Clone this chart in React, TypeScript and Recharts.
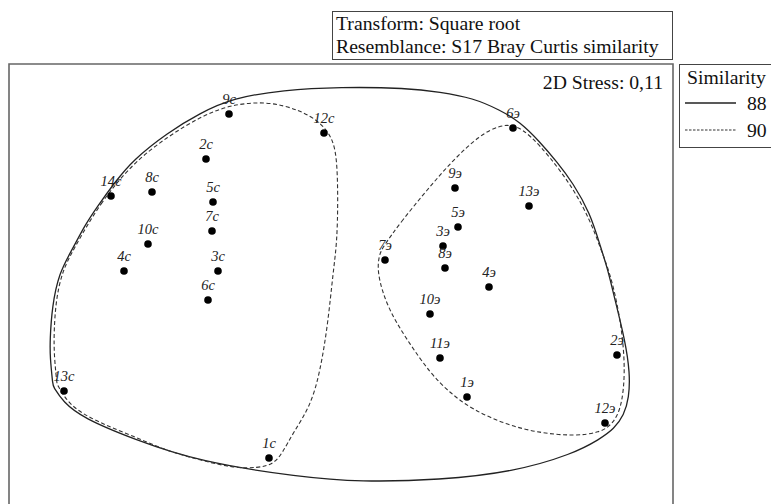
import { ScatterChart, Scatter, XAxis, YAxis, ReferenceArea } from "recharts";

// nMDS coordinates
const stationsC: [string, number, number][] = [
  ["1с", -0.36, -0.84],
  ["2с", -0.675, 0.655],
  ["3с", -0.615, 0.095],
  ["4с", -1.085, 0.095],
  ["5с", -0.64, 0.44],
  ["6с", -0.665, -0.05],
  ["7с", -0.645, 0.295],
  ["8с", -0.945, 0.49],
  ["9с", -0.56, 0.88],
  ["10с", -0.965, 0.23],
  ["12с", -0.085, 0.785],
  ["13с", -1.385, -0.505],
  ["14с", -1.15, 0.47],
];

const stationsE: [string, number, number][] = [
  ["1э", 0.63, -0.535],
  ["2э", 1.38, -0.325],
  ["3э", 0.51, 0.22],
  ["4э", 0.74, 0.015],
  ["5э", 0.585, 0.315],
  ["6э", 0.86, 0.81],
  ["7э", 0.22, 0.15],
  ["8э", 0.52, 0.11],
  ["9э", 0.57, 0.51],
  ["10э", 0.445, -0.12],
  ["11э", 0.495, -0.34],
  ["12э", 1.32, -0.665],
  ["13э", 0.94, 0.42],
];

// similarity contours (closed outlines)
const contour88: [number, number][] = [
  [-1.345, 0.2], [-1.28, 0.325], [-1.22, 0.415], [-1.13, 0.54], [-1.04, 0.65],
  [-0.87, 0.785], [-0.705, 0.885], [-0.54, 0.96], [-0.29, 1.0], [-0.005, 1.015],
  [0.33, 1.01], [0.495, 0.99], [0.66, 0.96], [0.795, 0.9], [0.895, 0.84],
  [0.995, 0.74], [1.08, 0.64], [1.16, 0.535], [1.245, 0.385], [1.295, 0.225],
  [1.335, 0.1], [1.37, -0.05], [1.42, -0.25], [1.445, -0.415], [1.44, -0.54],
  [1.415, -0.625], [1.365, -0.695], [1.295, -0.745], [1.16, -0.82], [0.86, -0.91],
  [0.495, -0.95], [0.095, -0.96], [-0.205, -0.935], [-0.705, -0.86], [-1.04, -0.745],
  [-1.29, -0.64], [-1.39, -0.56], [-1.44, -0.48], [-1.44, -0.48], [-1.455, -0.335],
  [-1.455, -0.25], [-1.445, -0.085], [-1.41, 0.085],
];

const contour90C: [number, number][] = [
  [-1.34, 0.2], [-1.205, 0.435], [-1.04, 0.635], [-0.87, 0.765], [-0.705, 0.865],
  [-0.56, 0.925], [-0.37, 0.945], [-0.205, 0.9], [-0.105, 0.84], [-0.045, 0.765],
  [-0.02, 0.665], [-0.015, 0.45], [-0.02, 0.235], [-0.04, 0.085], [-0.065, -0.165],
  [-0.105, -0.415], [-0.155, -0.585], [-0.24, -0.715], [-0.29, -0.81], [-0.335, -0.87],
  [-0.415, -0.89], [-0.54, -0.89], [-0.705, -0.85], [-0.87, -0.805], [-1.04, -0.73],
  [-1.205, -0.665], [-1.355, -0.585], [-1.42, -0.47], [-1.42, -0.47], [-1.435, -0.325],
  [-1.435, -0.2], [-1.425, -0.05], [-1.395, 0.09],
];

const contour90E: [number, number][] = [
  [0.21, 0.215], [0.295, 0.335], [0.43, 0.5], [0.56, 0.65], [0.695, 0.775],
  [0.795, 0.825], [0.87, 0.825], [0.945, 0.775], [1.045, 0.665], [1.16, 0.51],
  [1.245, 0.35], [1.295, 0.215], [1.345, 0.085], [1.385, -0.085], [1.41, -0.25],
  [1.42, -0.415], [1.405, -0.575], [1.365, -0.665], [1.295, -0.715], [1.16, -0.73],
  [0.995, -0.715], [0.83, -0.675], [0.66, -0.6], [0.545, -0.515], [0.445, -0.415],
  [0.33, -0.25], [0.23, -0.085], [0.18, 0.085], [0.19, 0.175],
];

const X_DOMAIN: [number, number] = [-1.66, 1.66];
const Y_DOMAIN: [number, number] = [-1.1, 1.13];

const SERIF = '"Liberation Serif", "Times New Roman", serif';
const BIG = 19.7;

const toPoints = (rows: [string, number, number][]) =>
  rows.map(([name, x, y]) => ({ name, x, y }));
const toPath = (rows: [number, number][]) => rows.map(([x, y]) => ({ x, y }));

function StationDot(props: any) {
  const { cx, cy, payload } = props;
  return (
    <g>
      <circle cx={cx} cy={cy} r={3.8} fill="#000" />
      <text
        x={cx}
        y={cy - 10}
        textAnchor="middle"
        fontFamily={SERIF}
        fontStyle="italic"
        fontSize={14.5}
        fill="#222"
      >
        {payload.name}
      </text>
    </g>
  );
}

const noShape = () => <g />;

export default function App() {
  return (
    <div
      style={{
        position: "absolute",
        left: 0,
        top: 0,
        width: 771,
        height: 504,
        overflow: "hidden",
        background: "#fff",
        fontFamily: SERIF,
        color: "#111",
      }}
    >
      <ScatterChart
        width={771}
        height={560}
        margin={{ top: 64, right: 98, bottom: 50, left: 9 }}
      >
        <XAxis type="number" dataKey="x" domain={X_DOMAIN} hide />
        <YAxis type="number" dataKey="y" domain={Y_DOMAIN} hide width={0} />
        <ReferenceArea
          x1={X_DOMAIN[0]}
          x2={X_DOMAIN[1]}
          y1={Y_DOMAIN[0]}
          y2={Y_DOMAIN[1]}
          fill="none"
          fillOpacity={0}
          stroke="#666"
          strokeWidth={1.6}
        />
        <Scatter
          data={toPath(contour88)}
          fill="#222"
          line={{ stroke: "#222", strokeWidth: 1.3 }}
          lineJointType="basisClosed"
          shape={noShape}
          isAnimationActive={false}
        />
        <Scatter
          data={toPath(contour90C)}
          fill="#222"
          line={{ stroke: "#333", strokeWidth: 1.1, strokeDasharray: "4 2.5" }}
          lineJointType="basisClosed"
          shape={noShape}
          isAnimationActive={false}
        />
        <Scatter
          data={toPath(contour90E)}
          fill="#222"
          line={{ stroke: "#333", strokeWidth: 1.1, strokeDasharray: "4 2.5" }}
          lineJointType="basisClosed"
          shape={noShape}
          isAnimationActive={false}
        />
        <Scatter data={toPoints(stationsC)} fill="#000" shape={StationDot} isAnimationActive={false} />
        <Scatter data={toPoints(stationsE)} fill="#000" shape={StationDot} isAnimationActive={false} />
      </ScatterChart>

      {/* header box */}
      <div
        style={{
          position: "absolute",
          left: 332,
          top: 11,
          width: 341,
          height: 49,
          boxSizing: "border-box",
          border: "1.5px solid #444",
          paddingLeft: 3,
          fontSize: BIG,
          lineHeight: "23px",
          whiteSpace: "nowrap",
        }}
      >
        <div>Transform: Square root</div>
        <div>Resemblance: S17 Bray Curtis similarity</div>
      </div>

      {/* stress value */}
      <div
        style={{
          position: "absolute",
          right: 771 - 663,
          top: 70,
          fontSize: BIG,
          lineHeight: "24px",
          whiteSpace: "nowrap",
        }}
      >
        2D Stress: 0,11
      </div>

      {/* legend box */}
      <div
        style={{
          position: "absolute",
          left: 679,
          top: 64,
          width: 120,
          height: 84,
          boxSizing: "border-box",
          border: "1.5px solid #444",
          fontSize: BIG,
          whiteSpace: "nowrap",
        }}
      >
        <div style={{ position: "absolute", left: 7, top: 0, lineHeight: "24px" }}>Similarity</div>
        <svg style={{ position: "absolute", left: 0, top: 0 }} width={70} height={84}>
          <line x1={5} x2={56} y1={38} y2={38} stroke="#222" strokeWidth={1.3} />
          <line x1={5} x2={56} y1={65} y2={65} stroke="#333" strokeWidth={1.1} strokeDasharray="2.5 1.5" />
        </svg>
        <div style={{ position: "absolute", left: 67, top: 26, lineHeight: "24px" }}>88</div>
        <div style={{ position: "absolute", left: 67, top: 53, lineHeight: "24px" }}>90</div>
      </div>
    </div>
  );
}
